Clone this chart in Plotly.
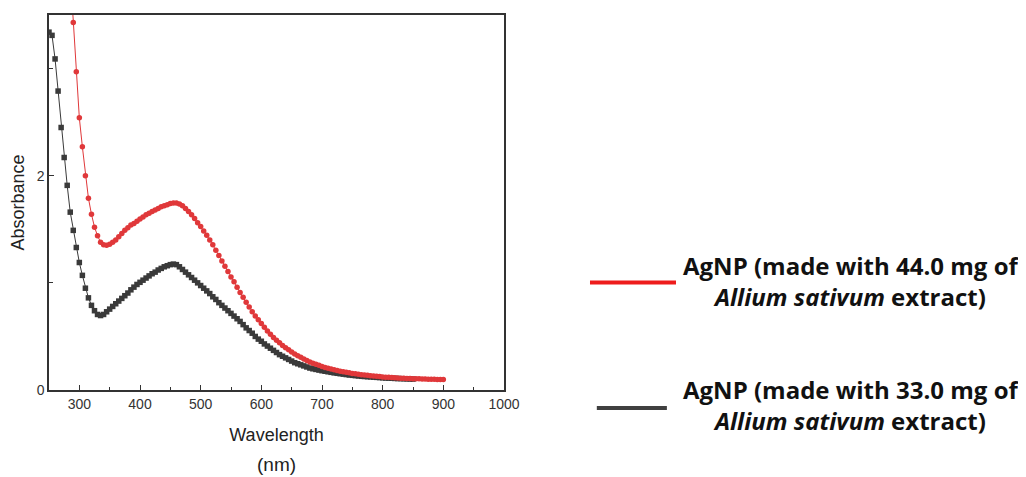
import plotly.graph_objects as go

# ---------------- data ----------------
wl_black = list(range(250, 855, 5))
abs_black = [3.34, 3.31, 3.09, 2.79, 2.45, 2.17, 1.91, 1.66, 1.49, 1.33,
             1.19, 1.07, 0.95, 0.86, 0.79, 0.74, 0.705, 0.695, 0.705, 0.73,
             0.755, 0.78, 0.805, 0.83, 0.855, 0.88, 0.905, 0.935, 0.96, 0.985,
             1.005, 1.025, 1.045, 1.065, 1.085, 1.10, 1.12, 1.135, 1.15, 1.16,
             1.17, 1.175, 1.17, 1.15, 1.125, 1.10, 1.075, 1.05, 1.025, 1.00,
             0.975, 0.95, 0.925, 0.90, 0.87, 0.845, 0.815, 0.79, 0.765, 0.74,
             0.715, 0.69, 0.665, 0.64, 0.61, 0.58, 0.555, 0.53, 0.50, 0.475,
             0.455, 0.43, 0.41, 0.39, 0.37, 0.35, 0.33, 0.315, 0.30, 0.285,
             0.27, 0.255, 0.245, 0.235, 0.225, 0.215, 0.205, 0.198, 0.192, 0.186,
             0.18, 0.175, 0.17, 0.165, 0.16, 0.156, 0.152, 0.148, 0.144, 0.14,
             0.137, 0.134, 0.131, 0.128, 0.126, 0.124, 0.122, 0.12, 0.118, 0.116,
             0.114, 0.112, 0.111, 0.11, 0.108, 0.107, 0.106, 0.105, 0.104, 0.103,
             0.102]

wl_red = list(range(285, 905, 5))
abs_red = [3.90, 3.43, 2.97, 2.54, 2.27, 2.00, 1.79, 1.64, 1.52, 1.44,
           1.38, 1.355, 1.35, 1.36, 1.38, 1.40, 1.43, 1.46, 1.49, 1.515,
           1.54, 1.555, 1.575, 1.595, 1.615, 1.635, 1.65, 1.665, 1.68, 1.695,
           1.71, 1.72, 1.73, 1.74, 1.745, 1.745, 1.735, 1.72, 1.695, 1.665,
           1.635, 1.60, 1.56, 1.525, 1.485, 1.445, 1.40, 1.355, 1.305, 1.255,
           1.205, 1.155, 1.105, 1.055, 1.01, 0.96, 0.91, 0.865, 0.82, 0.775,
           0.73, 0.69, 0.655, 0.62, 0.585, 0.55, 0.52, 0.49, 0.465, 0.44,
           0.415, 0.395, 0.375, 0.355, 0.335, 0.32, 0.305, 0.29, 0.275, 0.262,
           0.25, 0.24, 0.23, 0.22, 0.21, 0.202, 0.195, 0.188, 0.182, 0.176,
           0.17, 0.165, 0.16, 0.155, 0.151, 0.147, 0.143, 0.14, 0.137, 0.134,
           0.131, 0.128, 0.125, 0.122, 0.12, 0.118, 0.116, 0.114, 0.112, 0.11,
           0.109, 0.108, 0.107, 0.106, 0.105, 0.104, 0.103, 0.102, 0.101, 0.10,
           0.10, 0.099, 0.099, 0.098]

x_ticks = [300, 400, 500, 600, 700, 800, 900, 1000]
y_ticks = [0, 2]

label_red = "<b>AgNP (made with 44.0 mg of</b><br><b><i>Allium sativum</i> extract)</b>"
label_black = "<b>AgNP (made with 33.0 mg of</b><br><b><i>Allium sativum</i> extract)</b>"

RED = "#e0383a"
BLACK = "#3a3a3a"
FONT = "Liberation Sans, Arial"

fig = go.Figure()
fig.add_trace(go.Scatter(
    x=wl_black, y=abs_black, mode="lines+markers",
    line=dict(color=BLACK, width=1),
    marker=dict(symbol="square", size=5.5, color=BLACK),
    showlegend=False))
fig.add_trace(go.Scatter(
    x=wl_red, y=abs_red, mode="lines+markers",
    line=dict(color=RED, width=1),
    marker=dict(symbol="circle", size=5.5, color=RED),
    showlegend=False))

axis_common = dict(
    showline=True, linecolor="#333333", linewidth=1.5, mirror=True,
    ticks="inside", ticklen=5, tickwidth=1, tickcolor="#333333",
    showgrid=False, zeroline=False,
    tickfont=dict(family=FONT, size=14, color="#333333"),
)

fig.update_xaxes(range=[250, 1000], tickvals=x_ticks,
                 minor=dict(dtick=50, tick0=0, ticks="inside", ticklen=3,
                            tickcolor="#333333"),
                 title=dict(text="Wavelength", standoff=18,
                            font=dict(family=FONT, size=18, color="#222222")),
                 **axis_common)
fig.update_yaxes(range=[0, 3.5], tickvals=y_ticks,
                 minor=dict(dtick=1, tick0=0, ticks="inside", ticklen=4,
                            tickcolor="#333333"),
                 title=dict(text="Absorbance", standoff=7,
                            font=dict(family=FONT, size=18, color="#222222")),
                 **axis_common)

# (nm) second line under the x title
fig.add_annotation(text="(nm)", xref="paper", yref="paper", x=0.5, y=-0.199,
                   yanchor="middle", showarrow=False,
                   font=dict(family=FONT, size=19, color="#222222"))

# custom legend outside the plot
fig.add_shape(type="line", xref="paper", yref="paper",
              x0=1.189, x1=1.378, y0=0.2865, y1=0.2865,
              line=dict(color="#ee1c1c", width=4))
fig.add_shape(type="line", xref="paper", yref="paper",
              x0=1.204, x1=1.358, y0=-0.0477, y1=-0.0477,
              line=dict(color="#404040", width=4))
fig.add_annotation(text=label_red, xref="paper", yref="paper",
                   x=1.7626, y=0.2918, xanchor="center", yanchor="middle",
                   align="center", showarrow=False,
                   font=dict(family="Open Sans", size=24, color="#111111"))
fig.add_annotation(text=label_black, xref="paper", yref="paper",
                   x=1.7626, y=-0.0398, xanchor="center", yanchor="middle",
                   align="center", showarrow=False,
                   font=dict(family="Open Sans", size=24, color="#111111"))

# page body has an 8px margin; size the figure so the plot lands where the reference has it
fig.update_layout(
    width=1018, height=469,
    margin=dict(l=41, r=522, t=5, b=87),
    plot_bgcolor="white", paper_bgcolor="white",
)

fig.write_html("out.html")
